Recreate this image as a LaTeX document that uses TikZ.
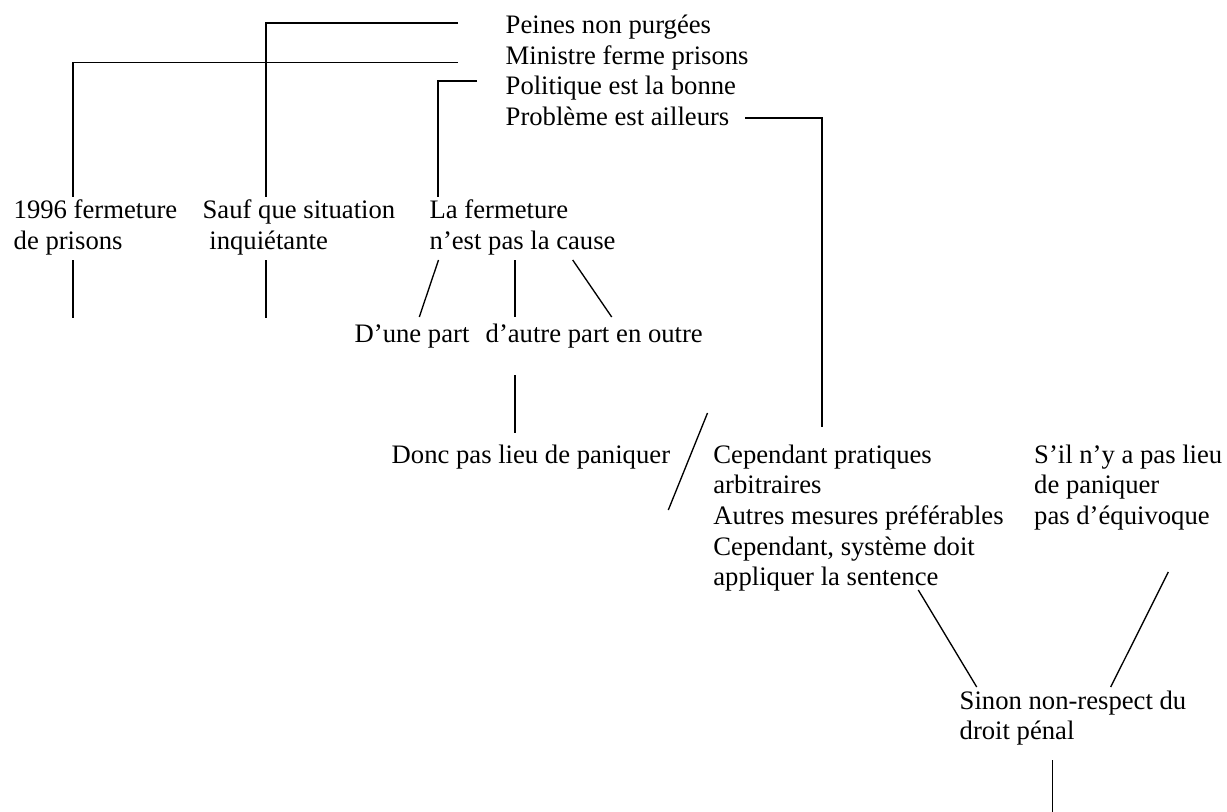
\documentclass[tikz,border=0pt]{standalone}
\usepackage{fontspec}
\setmainfont{Liberation Serif}
\usepackage{tikz}
\usetikzlibrary{calc}

\begin{document}
\begin{tikzpicture}[x=0.45pt,y=-0.45pt,line width=0.6pt,
                    main text/.style={inner sep=0pt,anchor=base west,align=left,text width=8cm,
                    font=\fontsize{12pt}{13.8pt}\selectfont,
                    execute at begin node={\spaceskip=0pt\xspaceskip=0pt\relax}}]
\useasboundingbox (0,0) rectangle (1227,812);

 \foreach \name/\txt [count=\i from 0] in {Peines/Peines non purgées,Ministre/Ministre ferme prisons,
                                           Politique/Politique est la bonne,Probleme/Problème est ailleurs}
    \node [main text] (\name) at (505,33.5+30.67*\i) {\txt};

\node [main text] (Fermeture) at (13,219) {1996 fermeture\\de prisons};
\node [main text] (Sauf) at (202,219) {Sauf que situation\\\hspace*{0.25em}inquiétante};
\node [main text] (Cause) at (429,219) {La fermeture\\n’est pas la cause};

\node [main text] (UnePart) at (354,342) {D’une part};
\node [main text] (AutrePart) at (485,342) {d’autre part};
\node [main text] (EnOutre) at (615.5,342) {en outre};

\node [main text] (Donc) at (391,463) {Donc pas lieu de paniquer};
\node [main text] (Cependant) at (712.7,463) {Cependant pratiques\\arbitraires\\Autres mesures préférables\\Cependant, système doit\\appliquer la sentence};
\node [main text] (Sil) at (1033.5,463) {S’il n’y a pas lieu\\de paniquer\\pas d’équivoque};
\node [main text] (Sinon) at (959,709) {Sinon non-respect du\\droit pénal};

% brackets from the top lines
\coordinate [shift={(-47,-10.5)}] (PeinesEnd) at (Peines.base west);
\coordinate [shift={(64,-22)}] (SaufTop) at (Sauf.base west);
\draw (PeinesEnd) -| (SaufTop);

\coordinate [shift={(-47,-2)}] (MinistreEnd) at (Ministre.base west);
\coordinate [shift={(60,-22)}] (FermetureTop) at (Fermeture.base west);
\draw (MinistreEnd) -| (FermetureTop);

\coordinate [shift={(-28,-14)}] (PolitiqueEnd) at (Politique.base west);
\coordinate [shift={(9,-22)}] (CauseTop) at (Cause.base west);
\draw (PolitiqueEnd) -| (CauseTop);

\coordinate [shift={(240,-7.5)}] (ProblemeEnd) at (Probleme.base west);
\coordinate [shift={(109.3,-36)}] (CependantTop) at (Cependant.base west);
\draw (ProblemeEnd) -| (CependantTop);

% stubs under the first row
\coordinate [shift={(60,41)}] (FermetureBottom) at (Fermeture.base west);
\coordinate [shift={(60,99)}] (FermetureStub) at (Fermeture.base west);
\draw (FermetureBottom) -- (FermetureStub);

\coordinate [shift={(64,41)}] (SaufBottom) at (Sauf.base west);
\coordinate [shift={(64,99)}] (SaufStub) at (Sauf.base west);
\draw (SaufBottom) -- (SaufStub);

% branches of la fermeture
\coordinate [shift={(9.5,41)}] (CauseLeft) at (Cause.base west);
\coordinate [shift={(86,41)}] (CauseMid) at (Cause.base west);
\coordinate [shift={(143.7,41)}] (CauseRight) at (Cause.base west);
\coordinate [shift={(65.3,-25)}] (UnePartTop) at (UnePart.base west);
\coordinate [shift={(30,-25)}] (AutrePartTop) at (AutrePart.base west);
\coordinate [shift={(-3.8,-25)}] (EnOutreTop) at (EnOutre.base west);
\draw (CauseLeft) -- (UnePartTop);
\draw (CauseMid) -- (AutrePartTop);
\draw (CauseRight) -- (EnOutreTop);

\coordinate [shift={(30,33)}] (AutrePartBottom) at (AutrePart.base west);
\coordinate [shift={(124,-30)}] (DoncTop) at (Donc.base west);
\draw (AutrePartBottom) -- (DoncTop);

% slash between the two blocks
\coordinate [shift={(-5.2,-50)}] (SlashTop) at (Cependant.base west);
\coordinate [shift={(-44.4,47)}] (SlashBottom) at (Cependant.base west);
\draw (SlashTop) -- (SlashBottom);

% towards the conclusion
\coordinate [shift={(205.6,127)}] (CependantBottom) at (Cependant.base west);
\coordinate [shift={(17.7,-22)}] (SinonLeft) at (Sinon.base west);
\draw (CependantBottom) -- (SinonLeft);

\coordinate [shift={(134.8,109)}] (SilBottom) at (Sil.base west);
\coordinate [shift={(151.7,-22)}] (SinonRight) at (Sinon.base west);
\draw (SilBottom) -- (SinonRight);

\coordinate [shift={(93.7,51)}] (SinonBottom) at (Sinon.base west);
\coordinate [shift={(93.7,103)}] (SinonStub) at (Sinon.base west);
\draw (SinonBottom) -- (SinonStub);
\end{tikzpicture}
\end{document}
